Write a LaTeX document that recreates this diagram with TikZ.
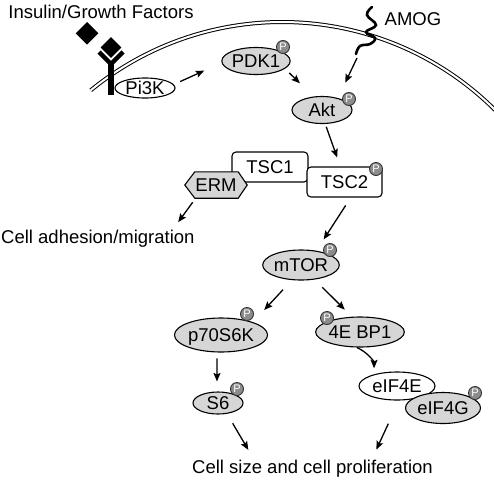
\documentclass[tikz,border=0pt]{standalone}
\usepackage{fontspec}
\setmainfont{Liberation Sans}
\usetikzlibrary{shapes.geometric,arrows.meta}
\definecolor{nodegray}{HTML}{D6D6D6}
\definecolor{pgray}{HTML}{8C8C8C}
\begin{document}
\begin{tikzpicture}[x=1pt,y=-1pt,
  lbl/.style={font=\fontsize{18.5}{20}\selectfont},
  ell/.style={ellipse, draw, line width=1.1pt, inner sep=0pt, lbl, text height=13.2pt, text depth=0pt},
  gel/.style={ell, fill=nodegray},
  wel/.style={ell, fill=white},
  tbox/.style={rectangle, rounded corners=4pt, draw, line width=1.1pt, fill=white, inner sep=0pt, lbl, text height=13.2pt, text depth=0pt},
  phos/.style={circle, draw=black!80, line width=0.9pt, fill=pgray, minimum size=13pt, inner sep=0pt, text=white, font=\fontsize{11}{11}\selectfont},
  arr/.style={line width=1.3pt, -{Stealth[length=8.5pt,width=7pt,inset=1.5pt]}},
  txt/.style={inner sep=0pt, lbl},
  memb/.style={double, line width=1pt, double distance=2pt},
]
\useasboundingbox (0,0) rectangle (494,479);
\fill[white] (0,0) rectangle (494,479);

% membrane
\draw[memb] plot[domain=-129.3:-44, samples=90] ({282+302*cos(\x)},{324+302*sin(\x)});

% receptor and ligands
\draw[line width=4.5pt] (99,52) -- (111,64) -- (123,52);
\draw[line width=5.5pt] (111,62) -- (111,95);
\filldraw[fill=black, draw=white, line width=1.2pt] (111,36) -- (122.5,47.5) -- (111,59) -- (99.5,47.5) -- cycle;
\fill (87,22) -- (98.3,33.3) -- (87,44.6) -- (75.7,33.3) -- cycle;

% AMOG squiggle
\draw[line width=2.6pt, line cap=round] plot[smooth, tension=0.7] coordinates {(372,7) (367,15) (376,25) (366,32) (375,38) (370,44) (360,46) (356,54)};
\coordinate (amogtail) at (357,58);

% nodes
\node[wel, minimum width=60pt, minimum height=20pt] (pi3k) at (145,88) {Pi3K};
\node[gel, minimum width=62pt, minimum height=27pt] (pdk1) at (256,61) {PDK1};
\node[phos] (ppdk1) at (283,47) {P};
\node[gel, minimum width=60pt, minimum height=27pt] (akt) at (322,110) {Akt};
\node[phos] (pakt) at (349,99) {P};
\node[tbox, minimum width=76pt, minimum height=30pt] (tsc1) at (270,167) {TSC1};
\node[tbox, minimum width=75pt, minimum height=30pt] (tsc2) at (344.5,182) {TSC2};
\node[phos] (ptsc2) at (376,169) {P};
\node[txt, minimum width=62pt, minimum height=26pt] (erm) at (216,185) {};
\filldraw[fill=nodegray, line width=1.1pt] (erm.west) -- ([xshift=10pt]erm.north west) -- ([xshift=-9pt]erm.north east) -- (erm.east) -- ([xshift=-9pt]erm.south east) -- ([xshift=10pt]erm.south west) -- cycle;
\node[txt, text height=13.2pt, text depth=0pt] (ermtext) at (erm.center) {ERM};
\node[gel, minimum width=68pt, minimum height=30pt] (mtor) at (301,265) {mTOR};
\node[phos] (pmtor) at (330,250) {P};
\node[gel, minimum width=84pt, minimum height=34pt] (p70) at (221,335) {p70S6K};
\node[phos] (pp70) at (247,314) {P};
\node[gel, minimum width=76pt, minimum height=30pt] (ebp) at (360,332) {4E BP1};
\node[phos] (pebp) at (327,318) {P};
\node[gel, minimum width=50pt, minimum height=22pt] (s6) at (218,403) {S6};
\node[phos] (ps6) at (237,389) {P};
\node[wel, minimum width=76pt, minimum height=28pt] (eif4e) at (397,386) {eIF4E};
\node[gel, minimum width=75pt, minimum height=31pt] (eif4g) at (443,408) {eIF4G};
\node[phos] (peif4g) at (475,393) {P};

% texts
\node[txt, anchor=base west] (insulin) at (8.3,18.5) {Insulin/Growth Factors};
\node[txt, anchor=base west] (amog) at (384.5,25) {AMOG};
\node[txt, anchor=base west] (cadh) at (1,243.3) {Cell adhesion/migration};
\node[txt, anchor=base west] (csize) at (192,473) {Cell size and cell proliferation};

% arrows
\draw[arr, shorten <=7pt, shorten >=19pt] (pi3k.7) -- (pdk1.183);
\draw[arr, shorten <=6pt, shorten >=19pt] (pdk1.-15) -- (akt.122);
\draw[arr, shorten >=17pt] (amogtail) -- (akt.37);
\draw[arr, shorten <=3pt, shorten >=9.5pt] (akt.-77) -- (tsc2.105);
\draw[arr, shorten <=5pt, shorten >=9.3pt] (erm.-147) -- ([xshift=74.8pt]cadh.north);
\draw[arr, shorten <=9.4pt, shorten >=13.5pt] (tsc2.-68) -- (mtor.43);
\draw[arr, shorten <=13pt, shorten >=16.5pt] (mtor.-121.5) -- (p70.22);
\draw[arr, shorten <=11pt, shorten >=10pt] (mtor.-47) -- (ebp.118);
\draw[arr, shorten <=6pt, shorten >=10pt] (p70.-103) -- (s6.95);
\draw[arr, shorten >=6pt] (ebp.-101) to[out=-25,in=90] (eif4e.153);
\draw[arr, shorten <=11pt, shorten >=11pt] (s6.-50) -- ([xshift=-58.6pt]csize.north);
\draw[arr, shorten <=25.5pt, shorten >=10.8pt] (eif4e.-82) -- ([xshift=59.3pt]csize.north);
\end{tikzpicture}
\end{document}
